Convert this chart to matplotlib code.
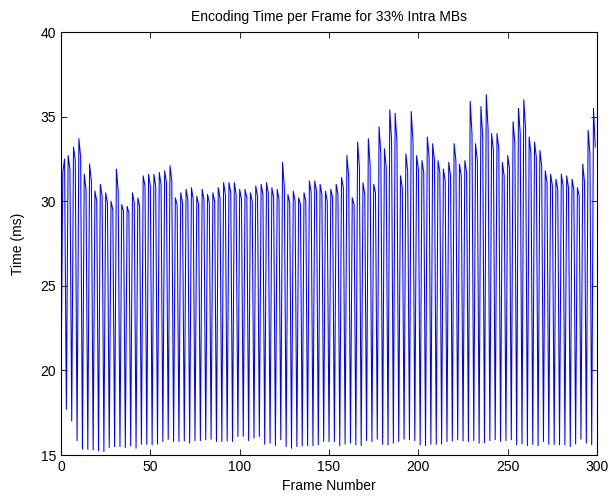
import matplotlib
matplotlib.use("Agg")
import matplotlib.pyplot as plt
import numpy as np

plt.rcParams['font.family'] = ['Liberation Sans', 'DejaVu Sans']

# each 3-frame cycle: low frame, peak frame, following frame
lows = [19.0, 17.7, 17.0, 15.85, 15.34, 15.34, 15.3, 15.25, 15.2, 15.45,
        15.5, 15.5, 15.43, 15.53, 15.4, 15.63, 15.63, 15.6, 15.65, 15.8,
        15.93, 15.8, 15.8, 15.83, 15.7, 15.85, 15.85, 15.9, 15.93, 15.8,
        15.8, 15.83, 15.8, 16.1, 16.1, 15.85, 16.0, 16.1, 15.63, 15.7,
        15.55, 15.9, 15.5, 15.4, 15.5, 15.53, 15.55, 15.55, 15.6, 15.8,
        15.8, 15.8, 15.55, 15.65, 15.7, 15.6, 15.55, 15.85, 15.8, 15.93,
        15.63, 15.6, 15.7, 15.8, 15.93, 15.9, 15.85, 15.6, 15.55, 15.63,
        15.63, 15.65, 15.8, 15.83, 15.9, 15.83, 15.8, 15.85, 15.7, 15.73,
        15.85, 15.9, 15.8, 15.85, 15.9, 15.6, 15.65, 15.55, 15.63, 15.55,
        15.8, 15.63, 15.63, 15.6, 15.6, 15.5, 15.65, 15.93, 15.7, 15.6]

peaks = [31.7, 32.7, 33.2, 33.7, 31.6, 32.2, 30.6, 31.0, 30.5, 30.0, 31.9, 29.8, 29.7, 30.5, 30.2, 31.5, 31.6,
         31.6, 31.7, 31.8, 32.1, 30.2, 30.5, 30.7, 30.8, 30.3, 30.7, 30.4, 30.5, 30.8, 31.1, 31.1, 31.1,
         30.7, 30.7, 30.5, 30.9, 31.0, 31.1, 30.8, 30.7, 32.3, 30.4, 30.6, 30.2, 30.5, 31.2, 31.2, 31.0, 30.6,
         30.7, 31.0, 31.4, 32.7, 30.2, 33.5, 31.1, 33.7, 31.0, 34.4, 33.1, 35.4, 35.2, 31.5, 32.8, 35.3, 32.7,
         32.4, 33.8, 33.4, 32.4, 31.9, 32.3, 33.4, 32.2, 32.4, 35.9, 33.4, 35.6, 36.3, 34.0, 34.0, 32.3, 32.7,
         34.7, 35.5, 36.0, 33.8, 33.5, 33.0, 31.8, 31.6, 31.3, 31.6, 31.5, 31.3, 30.8, 32.2, 34.2, 35.5]

seconds = [32.5, 31.9, 32.4, 32.6, 30.7, 31.2, 30.0, 30.3, 29.9, 29.5, 30.6, 29.4, 29.3, 29.9, 29.7, 30.9, 30.9,
           30.9, 31.0, 31.1, 31.2, 29.8, 29.9, 30.1, 30.1, 29.8, 30.1, 29.9, 30.0, 30.2, 30.4, 30.5, 30.4,
           30.1, 30.2, 30.0, 30.3, 30.4, 30.5, 30.2, 30.1, 30.8, 29.9, 30.0, 29.8, 30.0, 30.5, 30.6, 30.4, 30.0,
           30.2, 30.4, 30.8, 31.5, 29.8, 32.0, 30.4, 32.1, 30.5, 32.8, 32.0, 33.6, 33.5, 30.8, 31.8, 33.5, 31.9,
           31.7, 32.6, 32.4, 31.7, 31.2, 31.5, 32.4, 31.5, 31.7, 34.0, 32.4, 33.8, 34.3, 33.0, 33.1, 31.5, 31.9,
           33.4, 34.0, 34.3, 32.8, 32.6, 32.1, 31.1, 30.9, 30.7, 30.9, 30.8, 30.7, 30.3, 31.1, 32.8, 33.2]

# interleave into one per-frame series
times = np.column_stack([lows, peaks, seconds]).ravel()
frames = np.arange(len(times))

fig = plt.figure(figsize=(6.13, 5.01), dpi=100)
ax = fig.add_axes([0.0995, 0.0918, 0.8745, 0.8442])
ax.plot(frames, times, color='#0000ff', linewidth=0.75)

ax.set_xlim(0, 300)
ax.set_ylim(15, 40)
ax.set_xticks(np.arange(0, 301, 50))
ax.set_yticks(np.arange(15, 41, 5))
ax.tick_params(direction='in', top=True, right=True, length=4.5, labelsize=10, width=0.6)
for s in ax.spines.values():
    s.set_linewidth(0.8)

ax.set_title('Encoding Time per Frame for 33% Intra MBs', fontsize=10, pad=8)
ax.set_xlabel('Frame Number', fontsize=10, labelpad=4)
ax.set_ylabel('Time (ms)', fontsize=10, labelpad=11)

fig.savefig('out.png', dpi=100)
